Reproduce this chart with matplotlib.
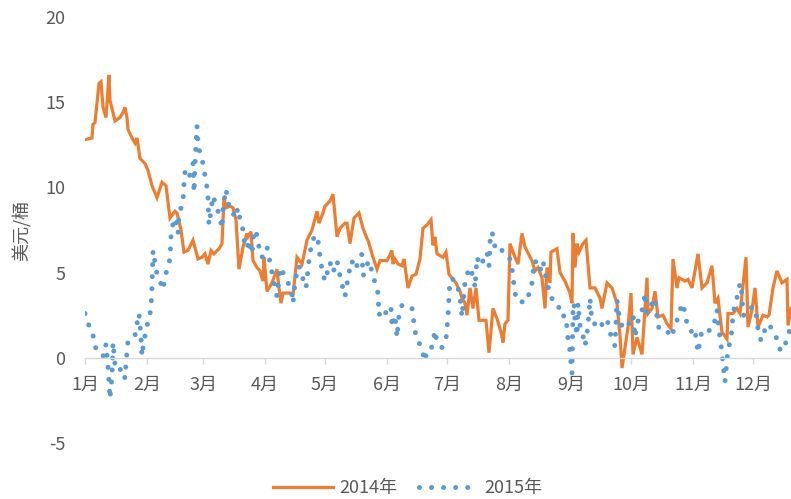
import matplotlib
matplotlib.use("Agg")
import matplotlib.pyplot as plt
import numpy as np

plt.rcParams['font.family'] = ['Noto Sans CJK SC', 'DejaVu Sans']
plt.rcParams['axes.unicode_minus'] = False

# ---- data (x = day of year, y = USD/bbl) ----
month_labels = ['1月', '2月', '3月', '4月', '5月', '6月', '7月', '8月', '9月', '10月', '11月', '12月']
month_starts = [0, 31, 59, 90, 120, 151, 181, 212, 243, 273, 304, 334]

px_2014 = [85, 92, 93, 95, 99, 101, 103, 106, 109, 110, 113, 115, 120, 123, 125, 127, 128, 132, 135, 137,
           140, 145, 148, 152, 157, 162, 166, 170, 175, 177, 181, 184, 188, 193, 198, 202, 205, 208, 211, 214,
           219, 222, 224, 226, 230, 233, 236, 239, 243, 247, 248, 251, 253, 257, 260, 263, 264, 267, 272, 277,
           279, 281, 283, 290, 293, 297, 302, 307, 312, 317, 319, 323, 325, 330, 333, 337, 340, 345, 347, 350,
           354, 359, 363, 367, 368, 373, 377, 380, 387, 392, 393, 395, 398, 402, 404, 408, 412, 416, 420, 423,
           427, 431, 433, 435, 437, 443, 446, 449, 453, 456, 460, 462, 465, 467, 470, 473, 476, 479, 486, 489,
           493, 497, 501, 503, 505, 508, 510, 515, 518, 522, 525, 532, 535, 538, 542, 545, 547, 550, 551, 557,
           560, 565, 570, 572, 573, 575, 577, 579, 583, 586, 590, 595, 600, 602, 607, 612, 617, 620, 622, 625,
           628, 631, 633, 637, 642, 647, 648, 652, 655, 658, 663, 667, 671, 673, 677, 679, 685, 688, 692, 698,
           702, 707, 712, 715, 718, 722, 727, 728, 733, 737, 740, 746, 748, 752, 755, 758, 763, 767, 769, 773,
           777, 782, 787, 788, 791]
vals_2014 = [12.8, 12.9, 13.7, 13.8, 16.1, 16.2, 14.7, 14.1, 16.6, 15.1, 14.4, 13.9, 14.1, 14.4, 14.7, 14.1, 13.4, 12.9, 12.6, 12.9,
             11.7, 11.4, 11.0, 10.1, 9.4, 10.3, 10.1, 8.2, 8.6, 8.5, 7.5, 6.2, 6.3, 6.9, 5.8, 5.9, 6.1, 5.5, 6.3, 6.1,
             6.4, 6.7, 9.4, 8.8, 8.9, 8.8, 8.1, 5.2, 6.5, 7.3, 7.1, 7.4, 5.7, 5.3, 5.1, 4.5, 5.9, 3.9, 4.4, 5.2,
             4.1, 3.2, 3.8, 3.8, 3.7, 5.9, 5.5, 6.9, 7.5, 8.6, 7.9, 8.5, 8.9, 9.2, 9.6, 7.1, 7.6, 7.9, 7.9, 6.7,
             8.2, 8.5, 7.6, 7.0, 6.9, 5.9, 5.2, 5.7, 5.7, 6.3, 5.5, 5.8, 5.5, 5.4, 5.8, 4.1, 4.8, 4.9, 5.8, 7.6,
             7.8, 8.1, 6.6, 7.1, 6.1, 5.9, 6.2, 4.9, 4.6, 4.4, 3.9, 3.5, 3.2, 2.5, 4.1, 2.9, 4.1, 2.2, 2.2, 0.3,
             2.9, 2.3, 1.5, 0.9, 2.0, 2.2, 6.7, 5.9, 5.5, 7.3, 6.5, 5.7, 5.1, 5.3, 4.7, 2.9, 5.3, 4.4, 6.2, 6.4,
             5.0, 4.5, 3.8, 3.2, 7.3, 5.3, 6.7, 6.2, 6.7, 6.9, 4.1, 4.1, 3.5, 2.9, 4.4, 4.1, 3.2, 1.3, -0.6, 0.6,
             1.8, 3.8, 0.2, 1.2, 0.2, 4.7, 2.6, 2.9, 3.9, 2.4, 2.5, 2.0, 1.7, 5.8, 4.1, 4.7, 4.5, 4.6, 4.1, 6.1,
             4.1, 4.4, 5.4, 3.2, 3.5, 1.5, 1.1, 2.6, 2.6, 2.9, 2.6, 5.9, 1.8, 2.8, 4.1, 1.8, 2.5, 2.4, 2.5, 4.1,
             5.1, 4.4, 4.6, 1.9, 2.9]

px_2015 = [85, 88, 91, 93, 95, 96, 100, 104, 106, 108, 110, 112, 113, 115, 118, 122, 125, 126, 128, 132,
           135, 137, 139, 141, 142, 143, 145, 147, 149, 151, 152, 153, 157, 160, 163, 165, 167, 170, 171, 173,
           175, 178, 179, 183, 184, 185, 188, 192, 193, 194, 195, 197, 198, 200, 203, 205, 207, 208, 209, 212,
           213, 217, 220, 222, 223, 226, 228, 230, 233, 235, 238, 240, 243, 244, 247, 249, 252, 254, 257, 259,
           262, 267, 269, 271, 273, 275, 277, 280, 283, 287, 291, 293, 295, 297, 299, 302, 306, 309, 312, 317,
           319, 320, 322, 325, 330, 333, 337, 340, 345, 348, 350, 352, 354, 358, 362, 363, 367, 368, 372, 375,
           378, 379, 382, 388, 391, 392, 395, 397, 399, 402, 407, 412, 415, 417, 420, 423, 424, 427, 430, 433,
           435, 437, 442, 446, 448, 449, 450, 453, 457, 460, 462, 465, 467, 470, 474, 475, 477, 480, 485, 487,
           489, 490, 492, 495, 500, 504, 510, 513, 514, 516, 520, 523, 526, 530, 532, 533, 535, 538, 540, 543,
           545, 547, 548, 551, 555, 558, 560, 562, 565, 567, 568, 570, 571, 572, 573, 574, 575, 577, 578, 580,
           583, 585, 587, 589, 590, 592, 597, 600, 603, 607, 610, 613, 615, 617, 618, 620, 623, 628, 632, 633,
           635, 637, 640, 643, 645, 647, 652, 655, 657, 659, 663, 667, 671, 673, 677, 680, 683, 687, 690, 692,
           695, 698, 700, 702, 704, 709, 713, 717, 718, 719, 722, 723, 725, 728, 731, 733, 735, 738, 740, 742,
           743, 747, 752, 755, 758, 761, 763, 768, 772, 777, 780, 783, 787, 790]
vals_2015 = [2.6, 2.0, 1.7, 1.3, 1.0, 0.4, 0.2, 0.1, 0.8, -0.5, -2.4, -1.1, 0.9, -0.4, -0.8, -0.6, -1.2, -0.3, 1.0, 1.2,
             1.3, 2.0, 2.6, 1.2, 0.1, 0.6, 1.3, 1.9, 2.3, 2.9, 4.2, 6.3, 4.9, 4.5, 4.0, 4.7, 5.2, 5.8, 7.1, 7.9,
             8.2, 7.3, 8.4, 9.2, 10.2, 10.9, 10.5, 11.0, 11.4, 9.7, 11.4, 13.6, 12.6, 12.0, 11.4, 10.7, 10.0, 9.4, 7.8, 9.1,
             9.5, 8.8, 8.2, 7.6, 8.8, 9.9, 9.2, 8.6, 8.5, 8.2, 8.8, 8.1, 7.5, 6.9, 6.4, 6.9, 6.1, 7.5, 7.2, 6.5,
             5.9, 6.5, 5.9, 5.3, 4.7, 4.1, 3.6, 5.3, 5.0, 4.5, 4.1, 3.2, 4.4, 5.1, 5.4, 4.8, 4.1, 5.7, 6.9, 7.2,
             6.5, 5.9, 5.2, 4.5, 5.6, 5.0, 5.7, 4.8, 3.6, 4.7, 5.3, 5.7, 5.2, 5.5, 6.1, 4.8, 5.3, 5.7, 5.1, 4.4,
             3.8, 2.5, 2.9, 2.5, 2.9, 1.8, 2.5, 1.2, 2.5, 3.1, 3.1, 2.9, 1.6, 1.0, 0.8, 0.3, -0.2, 0.3, 0.3, 0.9,
             1.6, 0.9, 0.6, 1.1, 2.4, 3.6, 4.6, 4.6, 4.4, 3.5, 2.4, 4.4, 4.9, 5.3, 4.6, 4.1, 5.9, 5.4, 5.9, 6.2,
             5.4, 6.8, 7.4, 6.5, 6.6, 6.0, 5.8, 4.9, 4.2, 3.5, 3.5, 3.2, 3.5, 3.8, 4.4, 5.0, 5.7, 5.4, 5.1, 5.7,
             5.0, 4.4, 4.2, 3.5, 3.4, 3.2, 2.6, 2.4, 2.5, 1.8, 1.1, 0.4, -0.3, -0.9, 2.8, 3.2, 2.1, 1.3, 3.2, 1.9,
             1.3, 0.7, 1.4, 2.6, 3.5, 2.1, 1.9, 1.7, 2.1, 2.3, 1.5, 0.9, 0.7, 3.4, 2.9, 2.2, 1.7, 1.9, 2.3, 2.5,
             1.2, 1.9, 2.6, 2.9, 3.8, 2.6, 3.2, 3.5, 2.4, 1.7, 1.6, 1.6, 1.2, 1.5, 2.2, 2.8, 3.2, 2.0, 1.9, 1.4,
             1.6, 0.3, 1.0, 1.6, 1.7, 1.6, 1.7, 2.8, 2.2, 1.6, 0.3, -0.4, -1.4, 0.5, 1.1, 2.5, 3.2, 3.7, 4.4, 3.7,
             2.5, 2.5, 3.0, 2.9, 1.7, 1.0, 1.4, 2.0, 1.7, 1.1, 0.5, 0.4, 1.1, 1.7]

series_names = ['2014年', '2015年']
ylabel_text = '美元/桶'

# convert digitised horizontal positions to day-of-year
days_2014 = (np.array(px_2014) - 85) / 2.0
days_2015 = (np.array(px_2015) - 85) / 2.0

ORANGE = '#ED7D31'
BLUE = '#5B9BD5'
TXT = '#595959'
GRID = '#D9D9D9'

fig = plt.figure(figsize=(7.91, 4.99), dpi=100)
ax = fig.add_axes([85 / 791, 1 - 443 / 499, 1 - 85 / 791, (443 - 17) / 499])

l1, = ax.plot(days_2014, vals_2014, color=ORANGE, lw=2.3, solid_joinstyle='miter', label=series_names[0])
l2, = ax.plot(days_2015, vals_2015, color=BLUE, lw=3.6, linestyle=(0, (0.01, 2.4)),
              dash_capstyle='round', label=series_names[1])

ax.set_xlim(0, 353)
ax.set_ylim(-5, 20)
ax.set_yticks([-5, 0, 5, 10, 15, 20])

for s in ['top', 'right', 'left']:
    ax.spines[s].set_visible(False)
ax.spines['bottom'].set_position(('data', 0))
ax.spines['bottom'].set_color(GRID)
ax.spines['bottom'].set_linewidth(1.0)

ax.set_xticks(month_starts)
ax.set_xticklabels(month_labels)
ax.tick_params(axis='x', colors=GRID, length=4, width=1.0, pad=9, labelsize=13, labelcolor=TXT)
ax.tick_params(axis='y', length=0, pad=14, labelsize=13, labelcolor=TXT)

ax.set_ylabel(ylabel_text, fontsize=13, color=TXT)
ax.yaxis.set_label_coords(-0.076, 0.5)

fig.legend(handles=[l1, l2], loc='center', bbox_to_anchor=(408 / 791, 1 - 488 / 499),
           ncol=2, frameon=False, fontsize=13, labelcolor=TXT, handlelength=3.3,
           columnspacing=1.2, handletextpad=0.35)

fig.savefig('out.png', dpi=100)
